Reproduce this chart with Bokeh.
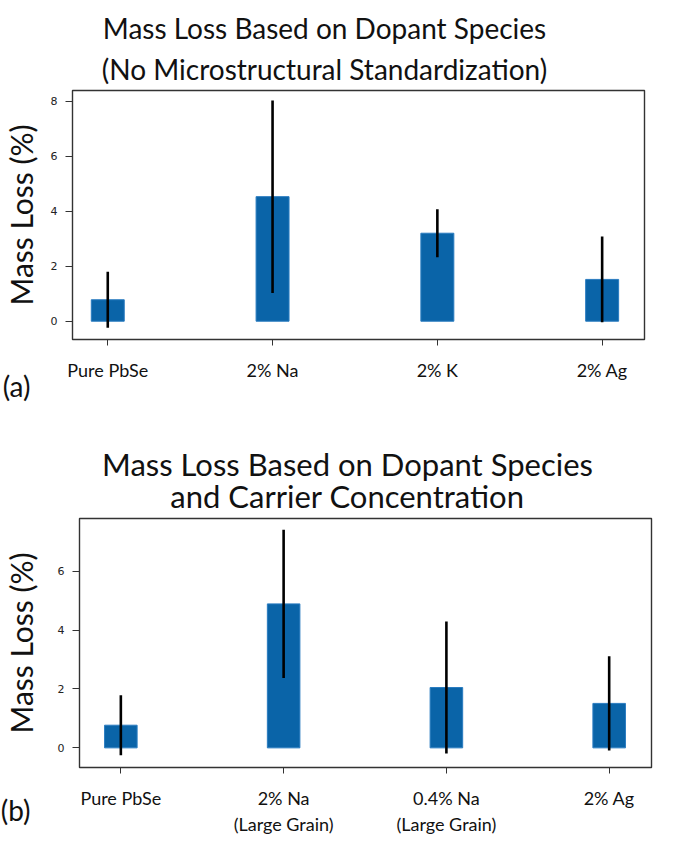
from bokeh.plotting import figure
from bokeh.layouts import column, row
from bokeh.models import Range1d, FixedTicker, ColumnDataSource, Title
from bokeh.core.properties import value
from bokeh.embed import file_html
from bokeh.resources import INLINE

# ---- data ----
cats_a = ["Pure PbSe", "2% Na", "2% K", "2% Ag"]
vals_a = [0.78, 4.53, 3.20, 1.52]
errs_a = [1.02, 3.50, 0.87, 1.56]

cats_b = ["Pure PbSe", "2% Na\n(Large Grain)", "0.4% Na\n(Large Grain)", "2% Ag"]
vals_b = [0.77, 4.89, 2.05, 1.51]
errs_b = [1.02, 2.52, 2.24, 1.60]

yticks_a = [0, 2, 4, 6, 8]
yticks_b = [0, 2, 4, 6]

title_a = ["Mass Loss Based on Dopant Species", "(No Microstructural Standardization)"]
title_b = ["Mass Loss Based on Dopant Species", "and Carrier Concentration"]
ylabel = "Mass Loss (%)"

BAR = "#0a64a8"
FONT = "Lato"
TXT = "#111111"
W = 685
STRIP = 46


def blank(width, height, **kw):
    f = figure(output_backend="svg", toolbar_location=None, width=width, height=height,
               x_range=Range1d(0, width), y_range=Range1d(0, height),
               x_axis_type=None, y_axis_type=None, **kw)
    f.outline_line_color = None
    f.xgrid.visible = False
    f.ygrid.visible = False
    return f


def header(lines, height, cx, ys, size):
    h = blank(W, height, min_border=0)
    src = ColumnDataSource(dict(x=[cx] * len(lines), y=ys, t=lines))
    h.text(x="x", y="y", text="t", source=src, text_align="center",
           text_baseline="alphabetic", text_font=value(FONT),
           text_font_size=size, text_color=TXT)
    return h


def strip(height, top, bottom, tag, tag_standoff):
    s = blank(STRIP, height, min_border_left=0, min_border_right=0,
              min_border_top=top, min_border_bottom=bottom)
    s.add_layout(Title(text=ylabel, align="center", vertical_align="top", standoff=4,
                       text_font=FONT, text_font_size="30px", text_font_style="normal",
                       text_color=TXT), "left")
    s.add_layout(Title(text=tag, align="right", offset=STRIP - 30, vertical_align="bottom",
                       standoff=tag_standoff,
                       text_font=FONT, text_font_size="28px", text_font_style="normal",
                       text_color=TXT), "below")
    return s


def make_panel(cats, vals, errs, yticks, yr, xr, geom):
    left, top, fw, fh, right, bottom = geom
    p = figure(output_backend="svg", toolbar_location=None,
               frame_width=fw, frame_height=fh,
               min_border_left=left, min_border_right=right,
               min_border_top=top, min_border_bottom=bottom,
               x_range=Range1d(*xr), y_range=Range1d(*yr))
    xs = list(range(len(cats)))
    lo = [v - e for v, e in zip(vals, errs)]
    hi = [v + e for v, e in zip(vals, errs)]
    src = ColumnDataSource(dict(x=xs, top=vals, lo=lo, hi=hi))
    p.vbar(x="x", top="top", bottom=0, width=0.2, source=src,
           fill_color=BAR, line_color="#2a7cc0", line_width=1)
    p.segment(x0="x", y0="lo", x1="x", y1="hi", source=src,
              line_color="black", line_width=2.6)

    p.xgrid.visible = False
    p.ygrid.visible = False
    p.outline_line_color = "#333333"
    p.outline_line_width = 1.4

    ax = p.xaxis[0]
    ax.ticker = FixedTicker(ticks=xs)
    ax.major_label_overrides = {i: c for i, c in enumerate(cats)}
    ax.major_label_text_font = FONT
    ax.major_label_text_font_size = "18px"
    ax.major_label_text_color = "#111111"
    ax.major_label_standoff = 13
    ax.major_tick_out = 6
    ax.major_tick_in = 0
    ax.minor_tick_out = 0
    ax.minor_tick_in = 0
    ax.axis_line_color = "#333333"
    ax.major_tick_line_color = "#333333"

    ay = p.yaxis[0]
    ay.ticker = FixedTicker(ticks=yticks)
    ay.major_label_text_font = "DejaVu Sans"
    ay.major_label_text_font_size = "11px"
    ay.major_label_text_color = "#222222"
    ay.major_label_standoff = 8
    ay.major_tick_out = 7
    ay.major_tick_in = 0
    ay.minor_tick_out = 0
    ay.minor_tick_in = 0
    ay.axis_line_color = "#333333"
    ay.major_tick_line_color = "#333333"
    return p


# panel (a): header 0..88, row 88..431 (frame 90..339)
ha = header(title_a, 88, 324, [60.7, 20], "28px")
sa = strip(343, 2, 92, "(a)", 54)
pa = make_panel(cats_a, vals_a, errs_a, yticks_a, (-0.665, 8.39), (-0.214, 3.257),
                (72 - STRIP, 2, 572, 249, W - 72 - 572, 92))
# panel (b): header 431..517, row 517..851 (frame 518..767)
hb = header(title_b, 86, 347, [54, 22], "31px")
sb = strip(334, 1, 84, "(b)", 46)
pb = make_panel(cats_b, vals_b, errs_b, yticks_b, (-0.667, 7.79), (-0.254, 3.26),
                (79 - STRIP, 1, 572, 249, W - 79 - 572, 84))

layout = column(ha, row(sa, pa, spacing=0), hb, row(sb, pb, spacing=0), spacing=0)
open("out.html", "w").write(file_html(layout, INLINE))
